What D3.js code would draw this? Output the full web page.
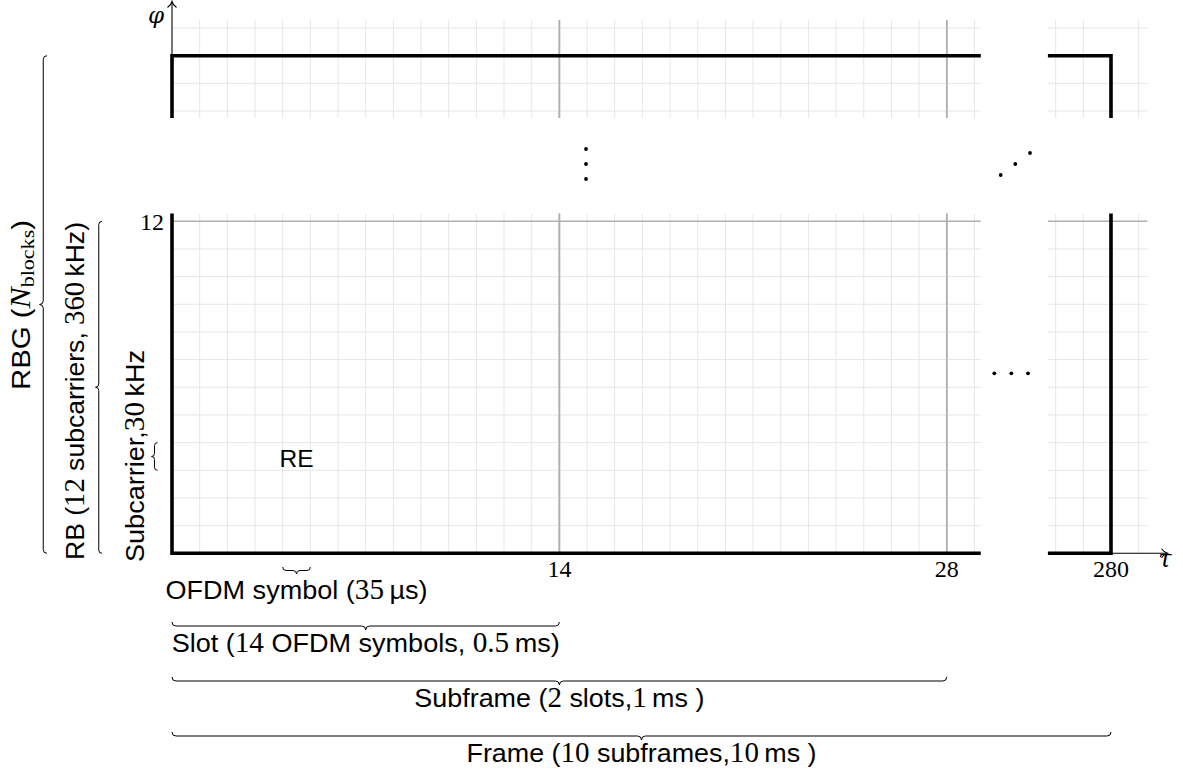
<!DOCTYPE html>
<html><head><meta charset="utf-8">
<script src="https://cdn.jsdelivr.net/npm/d3@7"></script>
<style>body{margin:0;background:#fff}svg{display:block}</style>
</head><body>
<svg id="c" width="1183" height="776"></svg>
<script>
// ---------------- data ----------------
const xTickValues = [14, 28];          // slot boundaries (OFDM symbol index)
const farTickValues = [280];           // frame end
const yTickValues = [12];              // subcarriers per RB
const nearTimeDomain = [0, 29.23];     // visible OFDM symbols, first block
const farTimeDomain = [277.72, 281.31];// visible OFDM symbols, last block
const lowFreqDomain = [0, 12.28];      // visible subcarriers, first RB
const highFreqDomain = [-2.25, 1.29];  // visible subcarriers around N_blocks edge (relative)
const bottomBraceFrom = [4, 0, 0, 0];
const bottomBraceTo = [5, 14, 28, 280];
const bottomLabels = [
  [["OFDM symbol (", "s"], ["35", "m"], ["\u2009µs)", "s"]],
  [["Slot (", "s"], ["14", "m"], [" OFDM symbols, ", "s"], ["0.5", "m"], ["\u2009ms)", "s"]],
  [["Subframe (", "s"], ["2", "m"], [" slots,", "s"], ["1", "m"], ["\u2009ms )", "s"]],
  [["Frame (", "s"], ["10", "m"], [" subframes,", "s"], ["10", "m"], ["\u2009ms )", "s"]]
];
const leftLabels = [
  [["RBG (", "s"], ["N", "i"], ["blocks", "sub"], [")", "s"]],
  [["RB (", "s"], ["12", "m"], [" subcarriers, ", "s"], ["360", "m"], ["\u2009kHz)", "s"]],
  [["Subcarrier,", "s"], ["30", "m"], ["\u2009kHz", "s"]]
];
const cellLabel = "RE";
const yAxisLabel = "φ";
const xAxisLabel = "τ";

// ---------------- layout ----------------
const svg = d3.select("#c");
const unit = 27.67;
const xL = d3.scaleLinear().domain([0, 14]).range([172, 172 + 14 * unit]);
const xR = d3.scaleLinear().domain([280, 281]).range([1111, 1111 + unit]);
const y = d3.scaleLinear().domain([0, 12]).range([553.3, 553.3 - 12 * unit]);
const yT = d3.scaleLinear().domain([0, 1]).range([55.7, 55.7 - unit]);
const xPos = v => v <= 100 ? xL(v) : xR(v);

const SANS = "'Liberation Sans', Arial, Helvetica, sans-serif";
const SERIF = "'Liberation Serif', 'Times New Roman', serif";
const LIGHT = "#e6e6e6", GRAY = "#b0b0b0";

const g = svg.append("g");
function line(x1, y1, x2, y2, color, w) {
  g.append("line").attr("x1", x1).attr("y1", y1).attr("x2", x2).attr("y2", y2)
    .attr("stroke", color).attr("stroke-width", w);
}
const intsIn = d => d3.range(Math.ceil(d[0]), Math.floor(d[1]) + 1);

const sections = [
  [xL, nearTimeDomain, y, lowFreqDomain],
  [xL, nearTimeDomain, yT, highFreqDomain],
  [xR, farTimeDomain, y, lowFreqDomain],
  [xR, farTimeDomain, yT, highFreqDomain]
];
sections.forEach(([xs, xd, ys, yd]) => {
  intsIn(xd).forEach(v => {
    if (v === 0 || v === 280) return;
    line(xs(v), ys(yd[0]), xs(v), ys(yd[1]), xTickValues.includes(v) ? GRAY : LIGHT, xTickValues.includes(v) ? 1.6 : 1);
  });
  intsIn(yd).forEach(v => {
    if (v === 0) return;
    const isMajor = ys === y && yTickValues.includes(v);
    line(xs(xd[0]), ys(v), xs(xd[1]), ys(v), isMajor ? GRAY : LIGHT, isMajor ? 1.6 : 1);
  });
});
sections.forEach(([xs, xd, ys, yd]) => {
  xTickValues.forEach(v => { if (v >= xd[0] && v <= xd[1]) line(xs(v), ys(yd[0]), xs(v), ys(yd[1]), GRAY, 1.6); });
});

// thin axes with arrows
const axisG = svg.append("g").attr("fill", "none").attr("stroke", "#000").attr("stroke-width", 1.1);
axisG.append("path").attr("d", `M${xL(0)},${yT(0)}V2`);
axisG.append("path").attr("d", `M${xL(0) - 4.5},7.5Q${xL(0) - 1},5 ${xL(0)},1.5Q${xL(0) + 1},5 ${xL(0) + 4.5},7.5`);
axisG.append("path").attr("d", `M${xR(280)},${y(0)}H1167`);
axisG.append("path").attr("d", `M1161.5,${y(0) - 4.5}Q1164,${y(0) - 1} 1167.5,${y(0)}Q1164,${y(0) + 1} 1161.5,${y(0) + 4.5}`);

// thick frame lines
const thick = svg.append("g").attr("fill", "none").attr("stroke", "#000").attr("stroke-width", 3.6);
thick.append("path").attr("d", `M${xL(0)},${y(lowFreqDomain[1])}V${y(0)}H${xL(nearTimeDomain[1])}`);
thick.append("path").attr("d", `M${xL(0)},${yT(highFreqDomain[0])}V${yT(0)}H${xL(nearTimeDomain[1])}`);
thick.append("path").attr("d", `M${xR(farTimeDomain[0])},${y(0)}H${xR(280)}V${y(lowFreqDomain[1])}`);
thick.append("path").attr("d", `M${xR(farTimeDomain[0])},${yT(0)}H${xR(280)}V${yT(highFreqDomain[0])}`);

// ellipsis dots
const dots = svg.append("g").attr("fill", "#000");
[[586, 149], [586, 164], [586, 179],
 [1000.7, 175], [1015.3, 164], [1030, 153],
 [994.3, 373.3], [1011.3, 373.3], [1028, 373.3]].forEach(([cx, cy]) =>
  dots.append("circle").attr("cx", cx).attr("cy", cy).attr("r", 1.9));

// tick labels
const tickFont = 24;
xTickValues.concat(farTickValues).forEach(v => {
  svg.append("text").attr("x", xPos(v)).attr("y", 577).attr("text-anchor", "middle")
    .attr("font-family", SERIF).attr("font-size", tickFont).text(v);
});
yTickValues.forEach(v => {
  svg.append("text").attr("x", 164).attr("y", y(v) + 8.5).attr("text-anchor", "end")
    .attr("font-family", SERIF).attr("font-size", tickFont).text(v);
});
svg.append("text").attr("x", 164).attr("y", 23).attr("text-anchor", "end")
  .attr("font-family", "'DejaVu Serif', serif").attr("font-style", "italic").attr("font-size", 23).text(yAxisLabel);
svg.append("text").attr("x", 1165).attr("y", 567).attr("text-anchor", "middle")
  .attr("font-family", "'DejaVu Serif', serif").attr("font-style", "italic").attr("font-size", 24).text(xAxisLabel);

function rich(sel, segs, size) {
  segs.forEach(([t, k]) => {
    const ts = sel.append("tspan").text(t);
    if (k === "s") ts.attr("font-family", SANS).attr("font-size", size);
    else if (k === "m") ts.attr("font-family", SERIF).attr("font-size", size * 1.08);
    else if (k === "i") ts.attr("font-family", SERIF).attr("font-style", "italic").attr("font-size", size * 1.08);
    else if (k === "sub") ts.attr("font-family", SERIF).attr("font-size", size * 0.75).attr("baseline-shift", "-22%");
  });
  return sel;
}

function braceH(x1, x2, yy, a) {
  const m = (x1 + x2) / 2, h = a / 2, r = Math.min(h, (x2 - x1) / 4);
  return `M${x1},${yy}Q${x1},${yy + h} ${x1 + r},${yy + h}L${m - r},${yy + h}Q${m},${yy + h} ${m},${yy + a}` +
         `Q${m},${yy + h} ${m + r},${yy + h}L${x2 - r},${yy + h}Q${x2},${yy + h} ${x2},${yy}`;
}
function braceV(y1, y2, xx, a) {
  const m = (y1 + y2) / 2, h = a / 2, r = Math.min(h, (y2 - y1) / 4);
  return `M${xx},${y1}Q${xx - h},${y1} ${xx - h},${y1 + r}L${xx - h},${m - r}Q${xx - h},${m} ${xx - a},${m}` +
         `Q${xx - h},${m} ${xx - h},${m + r}L${xx - h},${y2 - r}Q${xx - h},${y2} ${xx},${y2}`;
}
const braceG = svg.append("g").attr("fill", "none").attr("stroke", "#000").attr("stroke-width", 1);

const bEnds = [567, 622, 677, 732], bAmp = [7, 8, 8, 8];
const bBase = [598.5, 652, 707, 761.5], bWidth = [262, 388, 290, 350];
bottomLabels.forEach((segs, i) => {
  const x1 = xPos(bottomBraceFrom[i]), x2 = xPos(bottomBraceTo[i]);
  braceG.append("path").attr("d", braceH(x1, x2, bEnds[i], bAmp[i]));
  const t = svg.append("text").attr("x", (x1 + x2) / 2).attr("y", bBase[i]).attr("text-anchor", "middle")
    .attr("textLength", bWidth[i]).attr("lengthAdjust", "spacingAndGlyphs");
  rich(t, segs, 26.5);
});

const lSpans = [[yT(0), y(0)], [y(12), y(0)], [y(4), y(3)]];
const lEnds = [47, 102, 157.5], lAmp = [7.5, 6.5, 6];
const lBase = [29.5, 83.5, 143.5], lCenter = [305, 391, 456], lWidth = [170, 338, 212];
leftLabels.forEach((segs, i) => {
  braceG.append("path").attr("d", braceV(lSpans[i][0], lSpans[i][1], lEnds[i], lAmp[i]));
  const t = svg.append("text").attr("transform", `translate(${lBase[i]},${lCenter[i]}) rotate(-90)`)
    .attr("text-anchor", "middle").attr("textLength", lWidth[i]).attr("lengthAdjust", "spacingAndGlyphs");
  rich(t, segs, 26.5);
});

svg.append("text").attr("x", xL(4.5)).attr("y", 467).attr("text-anchor", "middle")
  .attr("font-family", SANS).attr("font-size", 24.5).text(cellLabel);
</script>
</body></html>
